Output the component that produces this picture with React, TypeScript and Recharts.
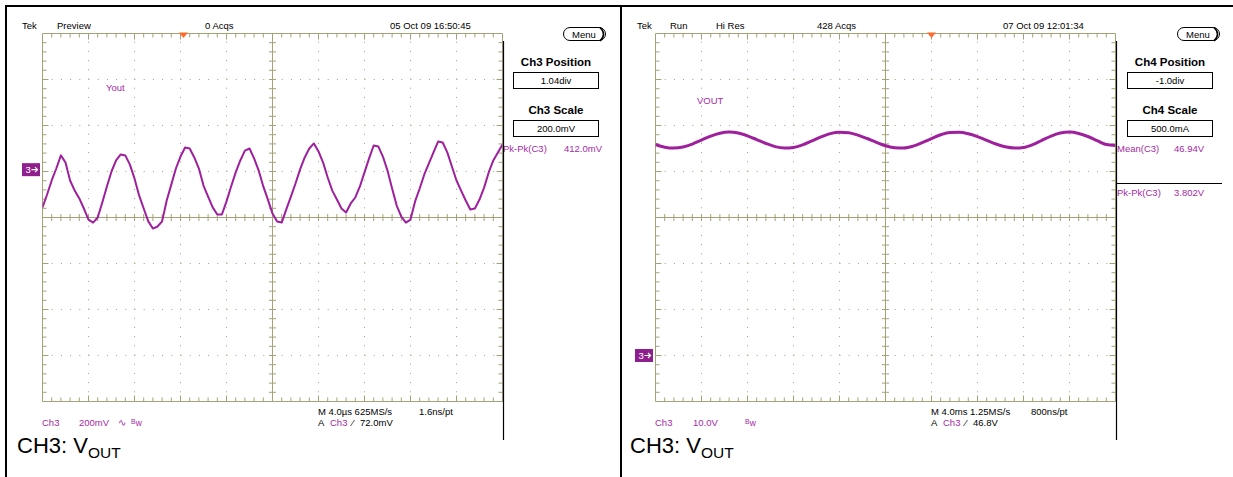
import React from 'react';
import { LineChart, Line, XAxis, YAxis, ReferenceLine, ReferenceDot } from 'recharts';

// ---- Left capture: "Preview", Ch3 200 mV/div, 4.0 us/div ----
const SAMPLE_INTERVAL_US = 0.4;
const ch3PreviewMilliVolts = [
  -164, -108, -47, 5, 62, 31, -47, -91, -125, -169,
  -217, -230, -208, -143, -73, -8, 40, 66, 62, 22,
  -38, -112, -169, -225, -256, -247, -225, -134, -65, 5,
  57, 96, 92, 53, 5, -69, -117, -164, -195, -195,
  -138, -73, -12, 40, 83, 92, 49, -4, -73, -130,
  -191, -225, -230, -173, -117, -60, 1, 53, 92, 114,
  79, 31, -34, -91, -130, -169, -186, -147, -121, -73,
  -12, 49, 105, 101, 57, -4, -82, -156, -204, -230,
  -217, -138, -82, -21, 27, 75, 122, 118, 75, 14,
  -47, -91, -134, -173, -169, -130, -78, -12, 40, 75,
  109,
];

// ---- Right capture: "Hi Res", Ch3 10.0 V/div, 4.0 ms/div ----
const SAMPLE_INTERVAL_MS = 0.8;
const ch3HiResVolts = [
  45.87, 45.28, 45.09, 45.33, 45.96, 46.83, 47.7, 48.33, 48.57, 48.35,
  47.74, 46.94, 46.09, 45.41, 45.11, 45.24, 45.8, 46.65, 47.52, 48.24,
  48.54, 48.44, 47.91, 47.17, 46.35, 45.61, 45.17, 45.13, 45.52, 46.28,
  47.15, 47.98, 48.48, 48.52, 48.2, 47.57, 46.78, 45.98, 45.37, 45.11,
  45.24, 45.85, 46.78, 47.7, 48.35, 48.57, 48.26, 47.61, 46.72, 45.85,
  45.65,
];

const leftData = ch3PreviewMilliVolts.map((v, i) => ({ t: +(i * SAMPLE_INTERVAL_US).toFixed(2), v }));
const rightData = ch3HiResVolts.map((v, i) => ({ t: +(i * SAMPLE_INTERVAL_MS).toFixed(2), v }));

const GRID = '#a5a277';
const TRACE = '#9e209c';
const PURPLE = '#a52aa5';
const ORANGE = '#ff6a2a';
const MARKER = '#8f1f8f';
const FONT = "'Liberation Sans', Arial, sans-serif";

type Cfg = {
  xMax: number;
  yMin: number;
  yMax: number;
  ground: number;
  trigger: number;
};

function gridElements(c: Cfg, prefix: string) {
  const xDiv = c.xMax / 10;
  const yDiv = (c.yMax - c.yMin) / 8;
  const px = xDiv / 46;
  const py = yDiv / 46;
  const xC = c.xMax / 2;
  const yC = c.yMin + 4 * yDiv;
  const xm = xDiv / 5;
  const ym = yDiv / 5;
  const els: any[] = [];
  const seg = (key: string, x1: number, y1: number, x2: number, y2: number) => (
    <ReferenceLine
      key={prefix + key}
      segment={[{ x: x1, y: y1 }, { x: x2, y: y2 }]}
      stroke={GRID}
      strokeWidth={1}
      ifOverflow="visible"
    />
  );
  for (let k = 1; k <= 9; k++) {
    if (k === 5) continue;
    els.push(
      <ReferenceLine key={prefix + 'dx' + k} x={k * xDiv} stroke={GRID} strokeWidth={1} strokeDasharray="1 8.2" ifOverflow="visible" />
    );
  }
  for (let k = 1; k <= 7; k++) {
    if (k === 4) continue;
    els.push(
      <ReferenceLine key={prefix + 'dy' + k} y={c.yMin + k * yDiv} stroke={GRID} strokeWidth={1} strokeDasharray="1 8.2" ifOverflow="visible" />
    );
  }
  els.push(<ReferenceLine key={prefix + 'bl'} x={0} stroke={GRID} strokeWidth={1} ifOverflow="visible" />);
  els.push(<ReferenceLine key={prefix + 'br'} x={c.xMax} stroke={GRID} strokeWidth={1} ifOverflow="visible" />);
  els.push(<ReferenceLine key={prefix + 'bb'} y={c.yMin} stroke={GRID} strokeWidth={1} ifOverflow="visible" />);
  els.push(<ReferenceLine key={prefix + 'bt'} y={c.yMax} stroke={GRID} strokeWidth={1} ifOverflow="visible" />);
  els.push(<ReferenceLine key={prefix + 'cx'} x={xC} stroke={GRID} strokeWidth={1} ifOverflow="visible" />);
  els.push(<ReferenceLine key={prefix + 'cy'} y={yC} stroke={GRID} strokeWidth={1} ifOverflow="visible" />);
  for (let k = 1; k < 50; k++) {
    const x = k * xm;
    const len = k % 5 === 0 ? 6 : 4;
    els.push(seg('tt' + k, x, c.yMax, x, c.yMax - len * py));
    els.push(seg('tb' + k, x, c.yMin, x, c.yMin + len * py));
    if (k !== 25) els.push(seg('tc' + k, x, yC - 3.5 * py, x, yC + 3.5 * py));
  }
  for (let j = 1; j < 40; j++) {
    const y = c.yMin + j * ym;
    const len = j % 5 === 0 ? 6 : 4;
    els.push(seg('tl' + j, 0, y, len * px, y));
    els.push(seg('tr' + j, c.xMax, y, c.xMax - len * px, y));
    if (j !== 20) els.push(seg('tv' + j, xC - 3.5 * px, y, xC + 3.5 * px, y));
  }
  return els;
}

const groundShape = (p: any) => (
  <g>
    <rect x={p.cx - 20.5} y={p.cy - 6.5} width={18} height={13} fill={MARKER} />
    <text x={p.cx - 17} y={p.cy + 3.5} fill="#fff" fontSize={9.5} fontFamily={FONT}>3</text>
    <path d={`M ${p.cx - 11} ${p.cy} L ${p.cx - 5} ${p.cy} M ${p.cx - 7.5} ${p.cy - 2.5} L ${p.cx - 5} ${p.cy} L ${p.cx - 7.5} ${p.cy + 2.5}`} stroke="#fff" strokeWidth={1.2} fill="none" />
  </g>
);

const triggerShape = (p: any) => (
  <polygon points={`${p.cx - 4.5},${p.cy - 1} ${p.cx + 4.5},${p.cy - 1} ${p.cx},${p.cy + 4.5}`} fill={ORANGE} />
);

function ScopeChart({ cfg, data, width, curve, id }: { cfg: Cfg; data: any[]; width: number; curve: any; id: string }) {
  return (
    <LineChart
      width={620}
      height={477}
      data={data}
      margin={{ top: 33.5, left: 42.5, right: 117.5, bottom: 75.5 }}
    >
      <XAxis dataKey="t" type="number" domain={[0, cfg.xMax]} allowDataOverflow hide />
      <YAxis type="number" domain={[cfg.yMin, cfg.yMax]} allowDataOverflow hide />
      {gridElements(cfg, id)}
      <Line
        dataKey="v"
        type={curve}
        stroke={TRACE}
        strokeWidth={width}
        strokeLinejoin="round"
        dot={false}
        activeDot={false}
        isAnimationActive={false}
      />
      <ReferenceDot x={0} y={cfg.ground} r={0} ifOverflow="visible" shape={groundShape} />
      <ReferenceDot x={cfg.trigger} y={cfg.yMax} r={0} ifOverflow="visible" shape={triggerShape} />
    </LineChart>
  );
}

const leftCfg: Cfg = { xMax: 40, yMin: -1008, yMax: 592, ground: 0, trigger: 12.26 };
const rightCfg: Cfg = { xMax: 40, yMin: -10, yMax: 70, ground: 0, trigger: 24 };

function T(props: any) {
  const { x, y, children, size = 9.5, color = '#000', weight = 'normal', anchor = 'start' } = props;
  return (
    <text x={x} y={y} fontSize={size} fill={color} fontWeight={weight} textAnchor={anchor} fontFamily={FONT}>
      {children}
    </text>
  );
}

function Menu({ x }: { x: number }) {
  return (
    <g>
      <rect x={x + 0.5} y={27.5} width={42} height={13} rx={6.5} fill="#fff" stroke="#000" strokeWidth={1} />
      <path d={`M ${x + 37} ${27.5} Q ${x + 44} ${34} ${x + 37} ${41}`} stroke="#000" strokeWidth={1.6} fill="none" />
      <T x={x + 21} y={37.5} anchor="middle">Menu</T>
    </g>
  );
}

function SidePanel({ cx, pos, posVal, scale, scaleVal }: any) {
  return (
    <g>
      <T x={cx} y={65.5} size={11.5} weight="bold" anchor="middle">{pos}</T>
      <rect x={cx - 42.5} y={72.5} width={85} height={16} fill="#fff" stroke="#000" strokeWidth={1} />
      <T x={cx} y={84} anchor="middle">{posVal}</T>
      <T x={cx} y={113.5} size={11.5} weight="bold" anchor="middle">{scale}</T>
      <rect x={cx - 42.5} y={120.5} width={85} height={16} fill="#fff" stroke="#000" strokeWidth={1} />
      <T x={cx} y={132} anchor="middle">{scaleVal}</T>
    </g>
  );
}

function Bw({ x, y }: { x: number; y: number }) {
  return (
    <text x={x} y={y} fill={PURPLE} fontFamily={FONT}>
      <tspan fontSize={7} dy={-1.5}>B</tspan>
      <tspan fontSize={8.5} dy={1.5}>w</tspan>
    </text>
  );
}

function Caption({ x }: { x: number }) {
  return (
    <text x={x} y={453} fontSize={22} fill="#000" fontFamily={FONT}>
      CH3: V<tspan fontSize={15.5} dy={5}>OUT</tspan>
    </text>
  );
}

function Overlay() {
  return (
    <svg width={1233} height={477} style={{ position: 'absolute', left: 0, top: 0, pointerEvents: 'none' }}>
      {/* frame */}
      <line x1={5} y1={6} x2={1233} y2={6} stroke="#000" strokeWidth={2} />
      <line x1={6} y1={5} x2={6} y2={477} stroke="#000" strokeWidth={2} />
      <line x1={621} y1={5} x2={621} y2={477} stroke="#000" strokeWidth={2} />

      {/* left panel */}
      <T x={22} y={29}>Tek</T>
      <T x={57} y={29}>Preview</T>
      <T x={205} y={29}>0 Acqs</T>
      <T x={390} y={29}>05 Oct 09 16:50:45</T>
      <Menu x={563} />
      <SidePanel cx={556} pos="Ch3 Position" posVal="1.04div" scale="Ch3 Scale" scaleVal="200.0mV" />
      <T x={503} y={151.5} color={PURPLE}>Pk-Pk(C3)</T>
      <T x={564} y={151.5} color={PURPLE}>412.0mV</T>
      <T x={106} y={90.5} color={PURPLE}>Yout</T>
      <line x1={503.5} y1={41} x2={503.5} y2={440} stroke="#000" strokeWidth={1.2} />
      <T x={42} y={425.5} color={PURPLE}>Ch3</T>
      <T x={79} y={425.5} color={PURPLE}>200mV</T>
      <T x={118} y={425.5} color={PURPLE}>∿</T>
      <Bw x={131} y={425.5} />
      <T x={318} y={414.5}>M 4.0µs 625MS/s</T>
      <T x={419} y={414.5}>1.6ns/pt</T>
      <T x={318} y={425.5}>A</T>
      <T x={330} y={425.5} color={PURPLE}>Ch3</T>
      <T x={352} y={425.5}>⁄</T>
      <T x={360} y={425.5}>72.0mV</T>
      <Caption x={17} />

      {/* right panel */}
      <T x={637} y={29}>Tek</T>
      <T x={670} y={29}>Run</T>
      <T x={716} y={29}>Hi Res</T>
      <T x={817} y={29}>428 Acqs</T>
      <T x={1003} y={29}>07 Oct 09 12:01:34</T>
      <Menu x={1177} />
      <SidePanel cx={1170} pos="Ch4 Position" posVal="-1.0div" scale="Ch4 Scale" scaleVal="500.0mA" />
      <T x={1117} y={151.5} color={PURPLE}>Mean(C3)</T>
      <T x={1174} y={151.5} color={PURPLE}>46.94V</T>
      <line x1={1116} y1={183.5} x2={1222} y2={183.5} stroke="#000" strokeWidth={1} />
      <T x={1117} y={195.5} color={PURPLE}>Pk-Pk(C3)</T>
      <T x={1174} y={195.5} color={PURPLE}>3.802V</T>
      <T x={697} y={103.5} color={PURPLE}>VOUT</T>
      <line x1={1116.5} y1={41} x2={1116.5} y2={440} stroke="#000" strokeWidth={1.2} />
      <T x={655} y={425.5} color={PURPLE}>Ch3</T>
      <T x={693} y={425.5} color={PURPLE}>10.0V</T>
      <Bw x={745} y={425.5} />
      <T x={931} y={414.5}>M 4.0ms 1.25MS/s</T>
      <T x={1031} y={414.5}>800ns/pt</T>
      <T x={931} y={425.5}>A</T>
      <T x={943} y={425.5} color={PURPLE}>Ch3</T>
      <T x={965} y={425.5}>⁄</T>
      <T x={973} y={425.5}>46.8V</T>
      <Caption x={630} />
    </svg>
  );
}

export default function App() {
  return (
    <div style={{ position: 'absolute', left: 0, top: 0, width: 1233, height: 477, background: '#fff', overflow: 'hidden' }}>
      <div style={{ position: 'absolute', left: 0, top: 0 }}>
        <ScopeChart cfg={leftCfg} data={leftData} width={2} curve="linear" id="L" />
      </div>
      <div style={{ position: 'absolute', left: 613, top: 0 }}>
        <ScopeChart cfg={rightCfg} data={rightData} width={3} curve="monotone" id="R" />
      </div>
      <Overlay />
    </div>
  );
}
